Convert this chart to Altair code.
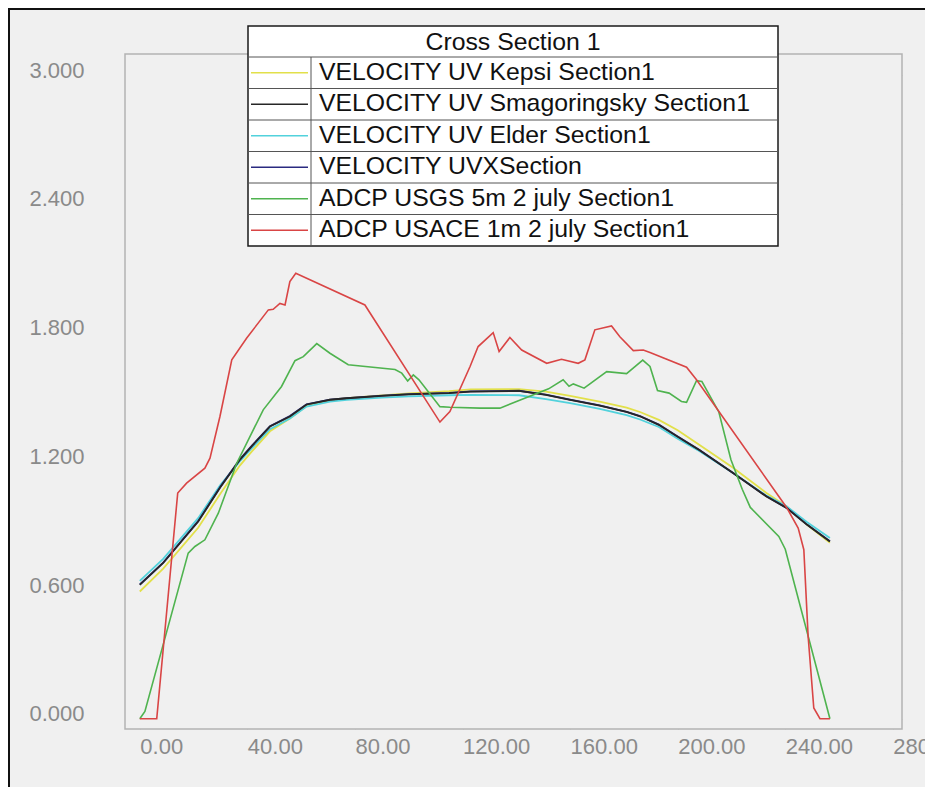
import altair as alt
import pandas as pd

# ---------------- data ----------------
X_TICKS = [0, 40, 80, 120, 160, 200, 240, 280]
Y_TICKS = [0.0, 0.6, 1.2, 1.8, 2.4, 3.0]

LEGEND_TITLE = "Cross Section 1"
SERIES = [
    "VELOCITY UV Kepsi Section1",
    "VELOCITY UV Smagoringsky Section1",
    "VELOCITY UV Elder Section1",
    "VELOCITY UVXSection",
    "ADCP USGS 5m 2 july Section1",
    "ADCP USACE 1m 2 july Section1",
]
COLORS = ["#e2e04a", "#262626", "#52d2dc", "#2a2a80", "#4fb34f", "#d94545"]

model_x = [0, 8.7, 21.7, 30, 37.2, 41.6, 48.4, 55.8, 62, 70.7, 77, 90, 100, 115,
           123, 141, 151, 160, 171, 181, 186, 193, 200, 208, 220.6, 233, 240.5,
           248, 256.6]
kepsi_v = [0.593, 0.70, 0.89, 1.05, 1.18, 1.245, 1.34, 1.40, 1.458, 1.485, 1.494,
           1.507, 1.517, 1.527, 1.535, 1.537, 1.525, 1.505, 1.478, 1.45, 1.43,
           1.393, 1.345, 1.277, 1.17, 1.052, 0.99, 0.905, 0.82]
smag_v = [0.624, 0.726, 0.919, 1.08, 1.207, 1.27, 1.362, 1.409, 1.465, 1.487,
          1.494, 1.505, 1.512, 1.518, 1.525, 1.528, 1.51, 1.487, 1.46, 1.43, 1.41,
          1.37, 1.315, 1.253, 1.145, 1.036, 0.982, 0.905, 0.826]
elder_v = [0.643, 0.745, 0.935, 1.09, 1.20, 1.26, 1.35, 1.40, 1.455, 1.478,
           1.487, 1.497, 1.503, 1.508, 1.51, 1.508, 1.49, 1.471, 1.445, 1.415,
           1.395, 1.36, 1.305, 1.248, 1.145, 1.04, 0.99, 0.917, 0.842]
uvx_v = [0.626, 0.728, 0.921, 1.082, 1.209, 1.272, 1.364, 1.411, 1.466, 1.488,
         1.495, 1.506, 1.513, 1.519, 1.526, 1.529, 1.511, 1.488, 1.461, 1.431,
         1.411, 1.371, 1.316, 1.254, 1.146, 1.037, 0.983, 0.906, 0.827]

usgs_x = [0, 1.9, 18, 20.5, 24.2, 29.2, 36, 45.9, 52.7, 57.7, 60.8, 65.8, 70.7,
          77.5, 94.9, 97.4, 99.6, 101.7, 103.8, 111.6, 115.3, 126.5, 133.9, 152,
          157.4, 159.6, 161.2, 165.2, 173.6, 181, 187, 189.7, 192.5, 196.8, 201.4,
          203.3, 207, 209, 215.3, 219.8, 224, 227, 237.6, 240, 256.6]
usgs_v = [0, 0.034, 0.772, 0.803, 0.834, 0.958, 1.19, 1.44, 1.549, 1.669, 1.688,
          1.749, 1.704, 1.65, 1.628, 1.611, 1.574, 1.603, 1.58, 1.455, 1.452,
          1.448, 1.448, 1.538, 1.58, 1.55, 1.561, 1.541, 1.618, 1.609, 1.672,
          1.642, 1.53, 1.518, 1.479, 1.475, 1.576, 1.572, 1.43, 1.207, 1.07,
          0.985, 0.85, 0.79, 0]

usace_x = [0, 6.3, 14.1, 17.4, 24.2, 26.1, 29.8, 34.2, 39.7, 47.8, 49.6, 52.1,
           54, 55.8, 58, 83.7, 111.6, 115.3, 122.8, 125.8, 131.4, 133.6, 137.6,
           142, 151.3, 156.8, 163, 165.5, 169.2, 175.4, 178.5, 183.5, 187.2,
           189.7, 203.3, 207, 240.5, 244.8, 246.9, 248.5, 250.6, 252.9, 256.6]
usace_v = [0, 0, 1.052, 1.098, 1.168, 1.215, 1.409, 1.673, 1.774, 1.906, 1.909,
           1.936, 1.929, 2.038, 2.077, 1.929, 1.383, 1.432, 1.642, 1.735, 1.80,
           1.712, 1.777, 1.719, 1.657, 1.676, 1.657, 1.673, 1.813, 1.831, 1.781,
           1.716, 1.719, 1.707, 1.639, 1.58, 0.985, 0.889, 0.788, 0.384, 0.05, 0, 0]

# ---------------- layout ----------------
W, H = 777, 675
X_DOMAIN = [-5.5, 283.4]
Y_DOMAIN = [-0.048, 3.099]
FONT = "Liberation Sans"

xs = alt.Scale(domain=X_DOMAIN, nice=False, zero=False)
ys = alt.Scale(domain=Y_DOMAIN, nice=False, zero=False)

xaxis = alt.Axis(values=X_TICKS, format=".2f", title=None, labelAlign="left",
                 labelBaseline="top", labelPadding=7, labelFlush=False,
                 labelOverlap=False, labelBound=False, ticks=False, domain=False)
yaxis = alt.Axis(values=Y_TICKS, format=".3f", title=None, labelPadding=41,
                 labelOffset=-5, ticks=False, domain=False)

def series_df(xv, yv):
    return pd.DataFrame({"x": xv, "v": yv, "i": list(range(len(xv)))})

series_data = [
    (model_x, kepsi_v),
    (model_x, smag_v),
    (model_x, elder_v),
    (model_x, uvx_v),
    (usgs_x, usgs_v),
    (usace_x, usace_v),
]
draw_order = [0, 2, 3, 1, 4, 5]

one = alt.Data(values=[{"a": 1}])

# plot frame
frame = alt.Chart(one).mark_rect(fill="#f0f0f0", stroke="#b2b2b2", strokeWidth=1.5).encode(
    x=alt.value(0), x2=alt.value(W), y=alt.value(0), y2=alt.value(H))

layers = [frame]
for k in draw_order:
    xv, yv = series_data[k]
    width = 1.8 if k < 4 else 1.6
    lyr = alt.Chart(series_df(xv, yv)).mark_line(
        color=COLORS[k], strokeWidth=width, interpolate="linear"
    ).encode(
        x=alt.X("x:Q", scale=xs, axis=xaxis),
        y=alt.Y("v:Q", scale=ys, axis=yaxis),
        order="i:O",
    )
    layers.append(lyr)

# outer black border (left and top)
border_left = alt.Chart(one).mark_rule(color="#111111", strokeWidth=2).encode(
    x=alt.value(-116), y=alt.value(-46), y2=alt.value(H + 70))
border_top = alt.Chart(one).mark_rule(color="#111111", strokeWidth=2).encode(
    y=alt.value(-45), x=alt.value(-117), x2=alt.value(W + 40))

# ---------------- legend table ----------------
LX0, LX1 = 123, 653
LY0 = -28
TITLE_H = 31
ROW_H = 31.5
ROW0 = LY0 + TITLE_H
LY1 = ROW0 + ROW_H * len(SERIES)
DIV_X = 186

leg_box = alt.Chart(one).mark_rect(fill="white", stroke="#1a1a1a", strokeWidth=1.5).encode(
    x=alt.value(LX0), x2=alt.value(LX1), y=alt.value(LY0), y2=alt.value(LY1))

leg_df = pd.DataFrame({
    "name": SERIES,
    "color": COLORS,
    "top": [ROW0 + ROW_H * i for i in range(len(SERIES))],
    "mid": [ROW0 + ROW_H * i + ROW_H / 2 for i in range(len(SERIES))],
    "x0": [LX0] * len(SERIES),
    "x1": [LX1] * len(SERIES),
    "s0": [LX0 + 3] * len(SERIES),
    "s1": [DIV_X - 3] * len(SERIES),
    "tx": [DIV_X + 8] * len(SERIES),
})

leg_sep = alt.Chart(leg_df).mark_rule(color="#555555", strokeWidth=1).encode(
    x=alt.X("x0:Q", scale=None, axis=None),
    x2="x1:Q",
    y=alt.Y("top:Q", scale=None, axis=None),
)
leg_div = alt.Chart(one).mark_rule(color="#555555", strokeWidth=1).encode(
    x=alt.value(DIV_X), y=alt.value(ROW0), y2=alt.value(LY1))
leg_lines = alt.Chart(leg_df).mark_rule(strokeWidth=1.5).encode(
    x=alt.X("s0:Q", scale=None, axis=None),
    x2="s1:Q",
    y=alt.Y("mid:Q", scale=None, axis=None),
    color=alt.Color("color:N", scale=None, legend=None),
)
leg_text = alt.Chart(leg_df).mark_text(
    align="left", baseline="middle", font=FONT, fontSize=24.8, color="#111111"
).encode(
    x=alt.X("tx:Q", scale=None, axis=None),
    y=alt.Y("mid:Q", scale=None, axis=None),
    text="name:N",
)
leg_title = alt.Chart(one).mark_text(
    align="center", baseline="middle", font=FONT, fontSize=24.8, color="#111111",
    text=LEGEND_TITLE,
).encode(x=alt.value((LX0 + LX1) / 2), y=alt.value(LY0 + TITLE_H / 2 + 1))

layers += [leg_box, leg_sep, leg_div, leg_lines, leg_text, leg_title,
           border_left, border_top]

chart = alt.layer(*layers).properties(
    width=W, height=H,
    autosize=alt.AutoSizeParams(type="none"),
    padding={"left": 117, "top": 46, "right": 23, "bottom": 58},
    background="#f0f0f0",
).configure_view(
    stroke="transparent"
).configure_axis(
    grid=True, gridColor="#d6d6d6", gridWidth=1,
    labelFont=FONT, labelFontSize=22, labelColor="#8a8a8a",
)

chart.save("out.html", embed_options={"renderer": "svg", "actions": False})
